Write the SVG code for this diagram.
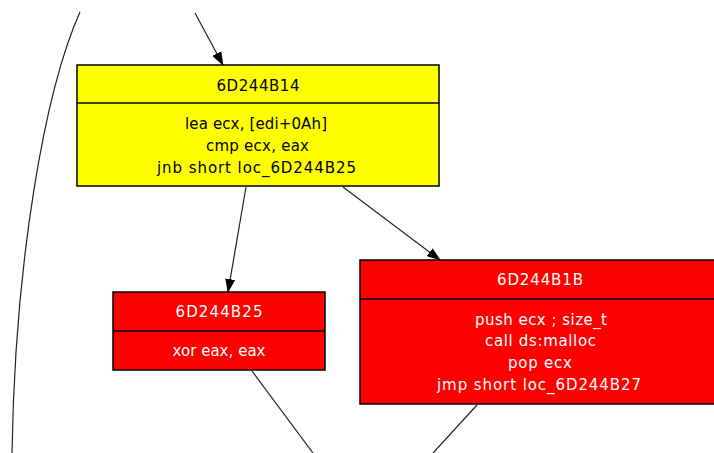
<svg xmlns="http://www.w3.org/2000/svg" width="714" height="453" viewBox="0 0 714 453">
<defs>
<style>
.box{stroke:#000;stroke-width:1.5}
.yel{fill:#ffff00}
.red{fill:#ff0000}
.div{stroke:#000;stroke-width:1.5}
.t{font-family:"DejaVu Sans",Verdana,sans-serif;font-size:15px;text-anchor:middle}
.dk{fill:#000}
.wh{fill:#fff}
.edge{fill:none;stroke:#222;stroke-width:1.2}
</style>
<marker id="ah" markerWidth="14" markerHeight="10" refX="13" refY="5" orient="auto" markerUnits="userSpaceOnUse">
<path d="M0,0 L14,5 L0,10 Z" fill="#000"/>
</marker>
</defs>
<rect width="714" height="453" fill="#fff"/>
<g id="connectors">
<path class="edge" d="M80,12 C45,90 15,260 12,453"/>
<path class="edge" d="M195,13 L223,65" marker-end="url(#ah)"/>
<path class="edge" d="M246,187 L228,292" marker-end="url(#ah)"/>
<path class="edge" d="M343,187 L440,260" marker-end="url(#ah)"/>
<path class="edge" d="M252,371 L313,453"/>
<path class="edge" d="M477,405 L433,453"/>
</g>
<g id="n6D244B14">
<rect class="box yel" x="77" y="65" width="362" height="121"/>
<line class="div" x1="77" y1="103" x2="439" y2="103"/>
<text class="t dk" x="258" y="91" textLength="83">6D244B14</text>
<text class="t dk" x="256" y="129" textLength="142">lea ecx, [edi+0Ah]</text>
<text class="t dk" x="257.5" y="151" textLength="103">cmp ecx, eax</text>
<text class="t dk" x="256.5" y="173" textLength="199">jnb short loc_6D244B25</text>
</g>
<g id="n6D244B25">
<rect class="box red" x="113" y="292" width="212" height="78"/>
<line class="div" x1="113" y1="331" x2="325" y2="331"/>
<text class="t wh" x="219" y="317" textLength="87">6D244B25</text>
<text class="t wh" x="219" y="356" textLength="93">xor eax, eax</text>
</g>
<g id="n6D244B1B">
<rect class="box red" x="360" y="260" width="362" height="144"/>
<line class="div" x1="360" y1="299" x2="722" y2="299"/>
<text class="t wh" x="540" y="285" textLength="86">6D244B1B</text>
<text class="t wh" x="541" y="325" textLength="132">push ecx ; size_t</text>
<text class="t wh" x="540.5" y="346" textLength="111">call ds:malloc</text>
<text class="t wh" x="540" y="368" textLength="64">pop ecx</text>
<text class="t wh" x="539" y="390" textLength="204">jmp short loc_6D244B27</text>
</g>
</svg>
